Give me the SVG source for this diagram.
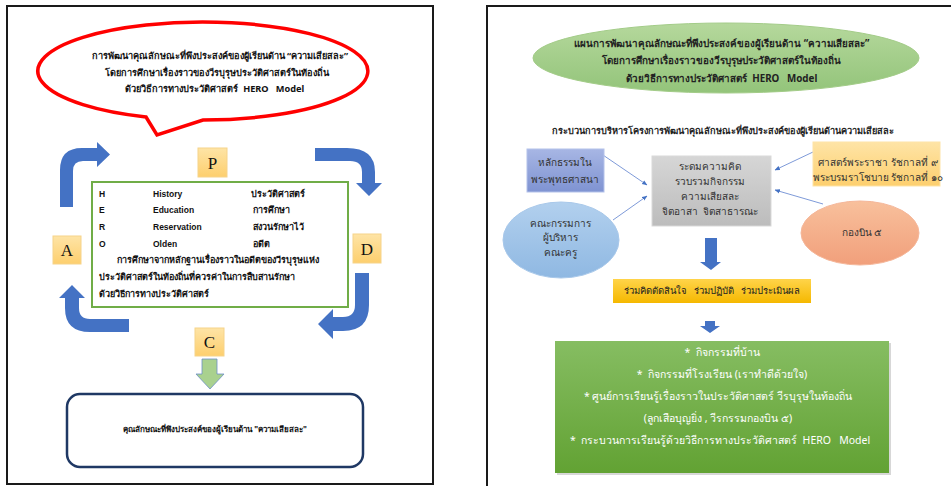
<svg xmlns="http://www.w3.org/2000/svg" width="951" height="486" viewBox="0 0 951 486">
<defs>
<linearGradient id="gOrange" x1="0" y1="0" x2="0" y2="1"><stop offset="0" stop-color="#fee4a6"/><stop offset="1" stop-color="#fdcf6e"/></linearGradient>
<linearGradient id="gGreenEl" x1="0" y1="0" x2="0" y2="1"><stop offset="0" stop-color="#b5d89c"/><stop offset="1" stop-color="#93c47a"/></linearGradient>
<linearGradient id="gPurple" x1="0" y1="0" x2="0" y2="1"><stop offset="0" stop-color="#a7b6e4"/><stop offset="1" stop-color="#7f93d2"/></linearGradient>
<linearGradient id="gGray" x1="0" y1="0" x2="0" y2="1"><stop offset="0" stop-color="#d6d6d6"/><stop offset="1" stop-color="#bcbcbc"/></linearGradient>
<linearGradient id="gBlueEl" x1="0" y1="0" x2="0" y2="1"><stop offset="0" stop-color="#b2d0ee"/><stop offset="1" stop-color="#8fb8e2"/></linearGradient>
<linearGradient id="gSalmon" x1="0" y1="0" x2="0" y2="1"><stop offset="0" stop-color="#f8c09c"/><stop offset="1" stop-color="#f19f7b"/></linearGradient>
<linearGradient id="gYellow" x1="0" y1="0" x2="0" y2="1"><stop offset="0" stop-color="#ffd44a"/><stop offset="1" stop-color="#f5b800"/></linearGradient>
<linearGradient id="gGreenBox" x1="0" y1="0" x2="0" y2="1"><stop offset="0" stop-color="#86bd62"/><stop offset="1" stop-color="#62a233"/></linearGradient>
<marker id="ah" viewBox="0 0 10 10" refX="9" refY="5" markerWidth="6" markerHeight="6" orient="auto"><path d="M0,1 L10,5 L0,9 Z" fill="#4472c4"/></marker>
</defs>
<style>
.th{font-family:"Noto Sans","DejaVu Sans","Liberation Sans",sans-serif;}
.b{font-weight:bold;}
.ser{font-family:"Liberation Serif",serif;font-size:17px;fill:#111;}
.en{font-family:"Liberation Sans",Arial,sans-serif;font-weight:bold;font-size:8.5px;fill:#111;}
.lt{font-size:9px;fill:#111;}
.frame{fill:none;stroke:#1a1a1a;stroke-width:2;}
.loop{fill:#4472c4;}
.lbl{fill:url(#gOrange);stroke:#f6d38a;stroke-width:1;}
.conn{stroke:#6f8fd4;stroke-width:0.9;fill:none;marker-end:url(#ah);}
.rt{font-size:10px;fill:#333;}
.wt{font-size:10.5px;fill:#ffffff;}
</style>
<rect width="951" height="486" fill="#ffffff"/>

<!-- Left panel -->
<g id="left-frame"><rect class="frame" x="7" y="6" width="426" height="478"/></g>

<g id="callout">
<path d="M146,117 A165,49 0 1 1 203,120 L157,135 Z" fill="#ffffff" stroke="#ff0000" stroke-width="3.5" stroke-linejoin="miter"/>
<text class="th b" font-size="9.2" fill="#111" text-anchor="middle" xml:space="preserve">
<tspan x="221" y="59">การพัฒนาคุณลักษณะที่พึงประสงค์ของผู้เรียนด้าน “ความเสียสละ”</tspan>
<tspan x="218" y="76">โดยการศึกษาเรื่องราวของวีรบุรุษประวัติศาสตร์ในท้องถิ่น</tspan>
<tspan x="216" y="92">ด้วยวิธีการทางประวัติศาสตร์  HERO   Model</tspan>
</text>
</g>

<g id="cycle-arrows">
<path class="loop" d="M60,207 L60,170 Q60,148 82,148 L97,148 L97,142 L110,154.5 L97,167 L97,161 L83,161 Q73,161 73,171 L73,207 Z"/>
<path class="loop" d="M315,148 L347,148 Q375,148 375,172 L375,183 L382,183 L369,196 L356,183 L362,183 L362,172 Q362,161 350,161 L315,161 Z"/>
<path class="loop" d="M355,273 L369,273 L369,305 Q369,331 343,331 L333,331 L333,339 L318,324 L333,309 L333,317 L343,317 Q355,317 355,305 Z"/>
<path class="loop" d="M129,319 L90,319 Q79,319 79,308 L79,298 L85,298 L72,285 L59,298 L65,298 L65,308 Q65,332 90,332 L129,332 Z"/>
</g>

<g id="P"><rect class="lbl" x="198" y="148" width="29" height="29"/><text class="ser" x="212.5" y="168.5" text-anchor="middle">P</text></g>
<g id="D"><rect class="lbl" x="353" y="234" width="28" height="29"/><text class="ser" x="367" y="254.5" text-anchor="middle">D</text></g>
<g id="A"><rect class="lbl" x="53" y="236" width="28" height="28"/><text class="ser" x="67" y="256" text-anchor="middle">A</text></g>
<g id="C"><rect class="lbl" x="195" y="328" width="29" height="28"/><text class="ser" x="209.5" y="348" text-anchor="middle">C</text></g>

<g id="hero-box">
<rect x="92" y="182" width="256" height="125" fill="#ffffff" stroke="#70ad47" stroke-width="2"/>
<g class="en">
<text x="99" y="197">H</text><text x="153" y="197">History</text>
<text x="99" y="213">E</text><text x="153" y="213">Education</text>
<text x="99" y="230">R</text><text x="153" y="230">Reservation</text>
<text x="99" y="247">O</text><text x="153" y="247">Olden</text>
</g>
<g class="th b lt">
<text x="251" y="197">ประวัติศาสตร์</text>
<text x="253" y="213">การศึกษา</text>
<text x="253" y="230">สงวนรักษาไว้</text>
<text x="253" y="247">อดีต</text>
<text x="117" y="263">การศึกษาจากหลักฐานเรื่องราวในอดีตของวีรบุรุษแห่ง</text>
<text x="99" y="280">ประวัติศาสตร์ในท้องถิ่นที่ควรค่าในการสืบสานรักษา</text>
<text x="99" y="297">ด้วยวิธีการทางประวัติศาสตร์</text>
</g>
</g>

<g id="down-arrow-left"><path d="M202,359 L217,359 L217,374 L224,374 L210,389 L196,374 L202,374 Z" fill="#a9d18e" stroke="#6d8fc7" stroke-width="0.8"/></g>

<g id="result-box">
<rect x="67" y="394" width="296" height="73" rx="13" fill="#ffffff" stroke="#1f3864" stroke-width="2.5"/>
<text class="th b" x="215" y="432" font-size="8" fill="#111" text-anchor="middle">คุณลักษณะที่พึงประสงค์ของผู้เรียนด้าน "ความเสียสละ"</text>
</g>

<!-- Right panel -->
<g id="right-frame"><path class="frame" d="M952,6 L487,6 L487,487"/></g>

<g id="plan-title">
<ellipse cx="726" cy="58" rx="193" ry="35" fill="url(#gGreenEl)" stroke="#a3cc88" stroke-width="1"/>
<text class="th b" font-size="9.8" fill="#222" text-anchor="middle" xml:space="preserve">
<tspan x="723" y="47">แผนการพัฒนาคุณลักษณะที่พึงประสงค์ของผู้เรียนด้าน “ความเสียสละ”</tspan>
<tspan x="723" y="64">โดยการศึกษาเรื่องราวของวีรบุรุษประวัติศาสตร์ในท้องถิ่น</tspan>
<tspan x="723" y="82">ด้วยวิธีการทางประวัติศาสตร์  HERO   Model</tspan>
</text>
</g>

<g id="subtitle"><text class="th b" x="723" y="134" font-size="9.2" fill="#222" text-anchor="middle">กระบวนการบริหารโครงการพัฒนาคุณลักษณะที่พึงประสงค์ของผู้เรียนด้านความเสียสละ</text></g>

<g id="connectors">
<line class="conn" x1="600" y1="153" x2="647" y2="185"/>
<line class="conn" x1="613" y1="220" x2="647" y2="196"/>
<line class="conn" x1="813" y1="152" x2="775" y2="170"/>
<line class="conn" x1="823" y1="204" x2="775" y2="190"/>
</g>

<g id="dharma"><rect x="527" y="149" width="77" height="43" fill="url(#gPurple)" stroke="#b4c2ea" stroke-width="1"/>
<text class="th rt" text-anchor="middle"><tspan x="565" y="166">หลักธรรมใน</tspan><tspan x="565" y="183">พระพุทธศาสนา</tspan></text></g>

<g id="core"><rect x="652" y="156" width="119" height="70" fill="url(#gGray)" stroke="#d9d9d9" stroke-width="1"/>
<text class="th rt" text-anchor="middle" xml:space="preserve"><tspan x="710" y="170">ระดมความคิด</tspan><tspan x="710" y="185">รวบรวมกิจกรรม</tspan><tspan x="710" y="200">ความเสียสละ</tspan><tspan x="710" y="215">จิตอาสา  จิตสาธารณะ</tspan></text></g>

<g id="king"><rect x="813" y="142" width="127" height="44" fill="url(#gOrange)" stroke="#fde3a7" stroke-width="1"/>
<text class="th rt" font-size="9.4" text-anchor="middle"><tspan x="878" y="166">ศาสตร์พระราชา รัชกาลที่ ๙</tspan><tspan x="878" y="181">พระบรมราโชบาย รัชกาลที่ ๑๐</tspan></text></g>

<g id="committee"><ellipse cx="561" cy="240" rx="58" ry="38" fill="url(#gBlueEl)" stroke="#a8c8ea" stroke-width="1"/>
<text class="th rt" text-anchor="middle"><tspan x="560" y="227">คณะกรรมการ</tspan><tspan x="560" y="241">ผู้บริหาร</tspan><tspan x="560" y="256">คณะครู</tspan></text></g>

<g id="wing5"><ellipse cx="860" cy="233" rx="59" ry="32" fill="url(#gSalmon)" stroke="#f5b79a" stroke-width="1"/>
<text class="th rt" x="862" y="236" text-anchor="middle">กองบิน ๕</text></g>

<g id="down-arrow-1"><path d="M705,238 L717,238 L717,262 L721,262 L711,270 L700,262 L705,262 Z" fill="#4472c4"/></g>

<g id="participate"><rect x="613" y="279" width="198" height="24" fill="url(#gYellow)"/>
<text class="th" x="712" y="294" font-size="9.5" fill="#222" text-anchor="middle" xml:space="preserve">ร่วมคิดตัดสินใจ   ร่วมปฏิบัติ   ร่วมประเมินผล</text></g>

<g id="down-arrow-2"><path d="M705,321 L715,321 L715,326 L720,326 L710,333 L700,326 L705,326 Z" fill="#4472c4"/></g>

<g id="activities"><rect x="557" y="343" width="334" height="132" fill="#bdbdbd" opacity="0.6"/>
<rect x="555" y="341" width="334" height="132" fill="url(#gGreenBox)"/>
<text class="th wt" text-anchor="middle" xml:space="preserve"><tspan x="722" y="356">*  กิจกรรมที่บ้าน</tspan><tspan x="722" y="378">*  กิจกรรมที่โรงเรียน (เราทำดีด้วยใจ)</tspan><tspan x="718" y="400">* ศูนย์การเรียนรู้เรื่องราวในประวัติศาสตร์ วีรบุรุษในท้องถิ่น</tspan><tspan x="718" y="422">(ลูกเสือบุญยิ่ง , วีรกรรมกองบิน ๕)</tspan><tspan x="720" y="444">*  กระบวนการเรียนรู้ด้วยวิธีการทางประวัติศาสตร์  HERO   Model</tspan></text></g>
</svg>
